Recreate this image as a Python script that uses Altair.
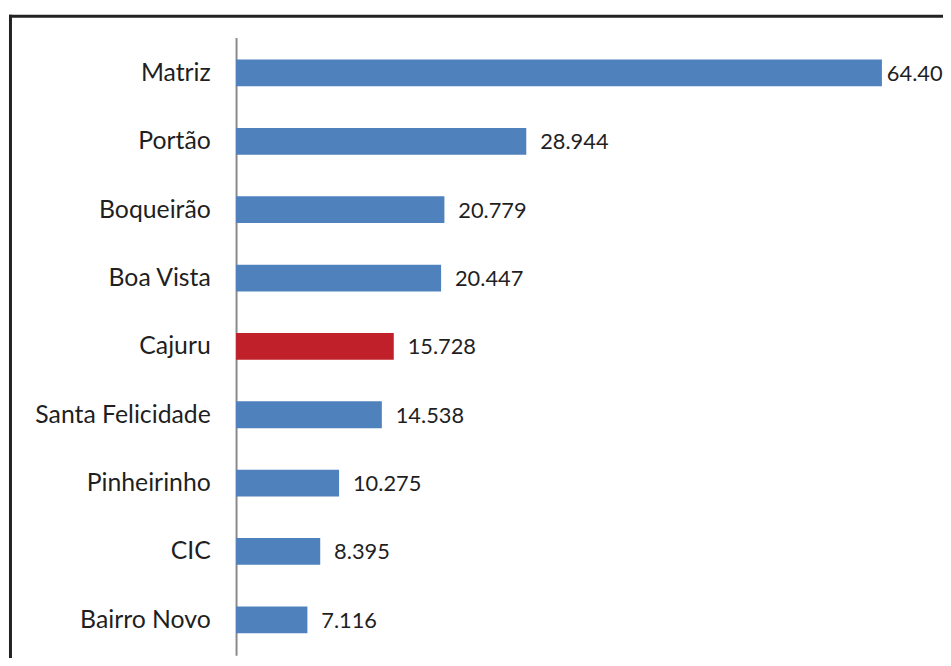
import altair as alt
import pandas as pd

categories = ["Matriz", "Portão", "Boqueirão", "Boa Vista", "Cajuru",
              "Santa Felicidade", "Pinheirinho", "CIC", "Bairro Novo"]
values = [64408, 28944, 20779, 20447, 15728, 14538, 10275, 8395, 7116]
highlight = ["Cajuru"]

df = pd.DataFrame({
    "regional": categories,
    "valor": values,
})
df["grupo"] = ["destaque" if c in highlight else "outros" for c in categories]
df["rotulo"] = [f"{v:,}".replace(",", ".") for v in values]
largest = max(values)

FONT = "Lato"
TEXT_COLOR = "#1f1f1f"

y_enc = alt.Y("regional:N", sort=categories, title=None,
              scale=alt.Scale(paddingInner=0.608, paddingOuter=0.322),
              axis=alt.Axis(ticks=False, grid=False, labelFont=FONT, labelFontSize=25,
                            labelColor=TEXT_COLOR, labelPadding=26,
                            domainColor="#8a8a8a", domainWidth=2))
x_enc = alt.X("valor:Q", title=None, scale=alt.Scale(domain=[0, 70500], nice=False),
              axis=None)

bars = alt.Chart(df).mark_bar().encode(
    y=y_enc,
    x=x_enc,
    color=alt.Color("grupo:N", scale=alt.Scale(domain=["outros", "destaque"],
                                              range=["#4F81BD", "#C0202A"]), legend=None),
)

label_enc = dict(
    y=alt.Y("regional:N", sort=categories),
    x=alt.X("valor:Q"),
    text="rotulo:N",
)

labels = alt.Chart(df).transform_filter(alt.datum.valor < largest).mark_text(
    align="left", baseline="middle", dx=14, dy=1,
    font=FONT, fontSize=22, color=TEXT_COLOR).encode(**label_enc)

label_top = alt.Chart(df).transform_filter(alt.datum.valor >= largest).mark_text(
    align="left", baseline="middle", dx=5, dy=1,
    font=FONT, fontSize=22, color=TEXT_COLOR).encode(**label_enc)

one = pd.DataFrame({"k": [0]})
frame_top = alt.Chart(one).mark_rule(color="#222222", strokeWidth=3).encode(
    x=alt.value(-229), x2=alt.value(800), y=alt.value(-21.5))
frame_left = alt.Chart(one).mark_rule(color="#222222", strokeWidth=3).encode(
    x=alt.value(-227.5), y=alt.value(-23), y2=alt.value(700))

chart = alt.layer(bars, labels, label_top, frame_top, frame_left).properties(
    width=713, height=623,
    autosize=alt.AutoSizeParams(type="none"),
    padding={"left": 230, "top": 27, "right": 0, "bottom": 0},
    background="white",
).configure_view(stroke=None)

chart.save("out.html", embed_options={"renderer": "svg", "actions": False})
